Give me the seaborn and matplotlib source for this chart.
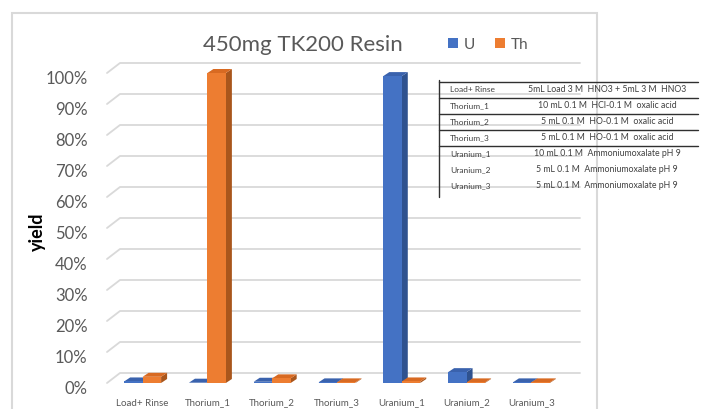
import numpy as np
import pandas as pd
import matplotlib as mpl
mpl.use('Agg')
import matplotlib.pyplot as plt
import seaborn as sns
from matplotlib.patches import Polygon, Rectangle
from matplotlib.lines import Line2D
from matplotlib.transforms import ScaledTranslation

# data
fractions = ['Load+ Rinse', 'Thorium_1', 'Thorium_2', 'Thorium_3',
             'Uranium_1', 'Uranium_2', 'Uranium_3']
u_yield = [0.005, 0.001, 0.004, 0.002, 0.99, 0.035, 0.002]
th_yield = [0.02, 1.00, 0.015, 0.002, 0.005, 0.002, 0.002]
metals = ['U', 'Th']
metal_colors = ['#4472C4', '#ED7D31']
side_colors = ['#2F528F', '#A9561C']
top_colors = ['#3A62AD', '#D86A22']
yticks = np.arange(0, 1.01, 0.1)

table_steps = ['Load+ Rinse', 'Thorium_1', 'Thorium_2', 'Thorium_3',
               'Uranium_1', 'Uranium_2', 'Uranium_3']
table_conds = ['5mL Load 3 M  HNO3 + 5mL 3 M  HNO3',
               '10 mL 0.1 M  HCl-0.1 M  oxalic acid',
               '5 mL 0.1 M  HO-0.1 M  oxalic acid',
               '5 mL 0.1 M  HO-0.1 M  oxalic acid',
               '10 mL 0.1 M  Ammoniumoxalate pH 9',
               '5 mL 0.1 M  Ammoniumoxalate pH 9',
               '5 mL 0.1 M  Ammoniumoxalate pH 9']

df = pd.DataFrame({'fraction': fractions * 2,
                   'yield': u_yield + th_yield,
                   'metal': ['U'] * len(fractions) + ['Th'] * len(fractions)})

W, H = 708, 410
sns.set_style('white')
plt.rcParams['font.family'] = ['Lato', 'DejaVu Sans']

fig = plt.figure(figsize=(W / 100, H / 100), dpi=100)
# front plane of the pseudo-3d plot: x 107..567 px, y 384 (0%) .. 74 (100%)
ax = fig.add_axes([107 / W, (H - 384) / H, 460 / W, 310 / H])

sns.barplot(data=df, x='fraction', y='yield', hue='metal',
            hue_order=metals, palette=metal_colors, width=0.57,
            saturation=1, ax=ax, zorder=4, linewidth=0, legend=False)

ax.set_xlim(-0.55, 6.55)
ax.set_ylim(0, 1.0)
ax.set_yticks(yticks)
ax.set_yticklabels(['{:.0f}%'.format(v * 100) for v in yticks],
                   color='#595959', size=12)
ax.tick_params(axis='y', length=0, pad=14)
ax.tick_params(axis='x', length=0, pad=10.5, labelsize=7,
               labelcolor='#595959')
ax.set_xlabel('')
ax.set_ylabel('')
ax.grid(False)
sns.despine(ax=ax, left=True, bottom=True)
ax.patch.set_alpha(0)

# tick labels sit a little below the front edge in the original
shift = ScaledTranslation(0, -4 / 100, fig.dpi_scale_trans)
for lab in ax.get_yticklabels():
    lab.set_transform(lab.get_transform() + shift)

to_data = ax.transData.inverted()
dx_g, dy_g = 13, 10   # depth of back wall (pixels)
dx_b, dy_b = 6, 4     # depth of the bars (pixels)

# back wall gridlines and side wall diagonals
for yv in yticks:
    fx0, fy = ax.transData.transform((-0.55, yv))
    fx1, _ = ax.transData.transform((6.55, yv))
    pts = to_data.transform([(fx0, fy), (fx0 + dx_g, fy + dy_g),
                             (fx1 + dx_g, fy + dy_g)])
    ax.add_line(Line2D(pts[:, 0], pts[:, 1], color='#D9D9D9', lw=1.3,
                       zorder=1, clip_on=False))

# side and top faces for each bar
for patch in ax.patches[:2 * len(fractions)]:
    fc = mpl.colors.to_hex(patch.get_facecolor())
    idx = 0 if fc.lower() == metal_colors[0].lower() else 1
    x0, y0 = patch.get_x(), patch.get_y()
    x1, y1 = x0 + patch.get_width(), y0 + patch.get_height()
    (px0, py0), (px1, py1) = ax.transData.transform([(x0, y0), (x1, y1)])
    side = to_data.transform([(px1, py0), (px1 + dx_b, py0 + dy_b),
                              (px1 + dx_b, py1 + dy_b), (px1, py1)])
    top = to_data.transform([(px0, py1), (px0 + dx_b, py1 + dy_b),
                             (px1 + dx_b, py1 + dy_b), (px1, py1)])
    ax.add_patch(Polygon(side, closed=True, fc=side_colors[idx], lw=0,
                         zorder=3, clip_on=False))
    ax.add_patch(Polygon(top, closed=True, fc=top_colors[idx], lw=0,
                         zorder=3, clip_on=False))

# legend next to the title
handles = [Line2D([], [], ls='', marker='s', markersize=6.5, mew=0, color=c)
           for c in metal_colors]
ax.legend(handles, metals, ncol=2, frameon=False, loc='center left',
          bbox_to_anchor=(434 / W, 1 - 45 / H),
          bbox_transform=fig.transFigure, handlelength=0.7,
          handletextpad=0.35, columnspacing=1.3,
          prop={'size': 11}, labelcolor='#595959')

fig.text(303 / W, 1 - 45 / H, '450mg TK200 Resin', ha='center', va='center',
         size=16, color='#595959')
fig.text(37 / W, 1 - 232 / H, 'yield', rotation=90, ha='center', va='center',
         size=13, weight='bold', color='black')

# chart area border
fig.patches.append(Rectangle((12 / W, -0.05), (597 - 12) / W,
                             1 - 14 / H + 0.05, transform=fig.transFigure,
                             fill=False, ec='#D9D9D9', lw=1.5))

# pasted table of elution conditions
row_y = [90, 106, 122, 138, 154, 170, 186]
for step, cond, yy in zip(table_steps, table_conds, row_y):
    fig.text(450 / W, 1 - yy / H, step, ha='left', va='center',
             size=6, color='#404040')
    fig.text(607 / W, 1 - yy / H, cond, ha='center', va='center',
             size=6.3, color='#404040')
for yy in [83, 99, 115, 131, 147]:
    fig.lines.append(Line2D([439 / W, 698 / W], [1 - yy / H, 1 - yy / H],
                            transform=fig.transFigure, color='#303030',
                            lw=1.0))
fig.lines.append(Line2D([439 / W, 439 / W], [1 - 81 / H, 1 - 198 / H],
                        transform=fig.transFigure, color='#303030', lw=1.0))

fig.savefig('out.png', dpi=100)
